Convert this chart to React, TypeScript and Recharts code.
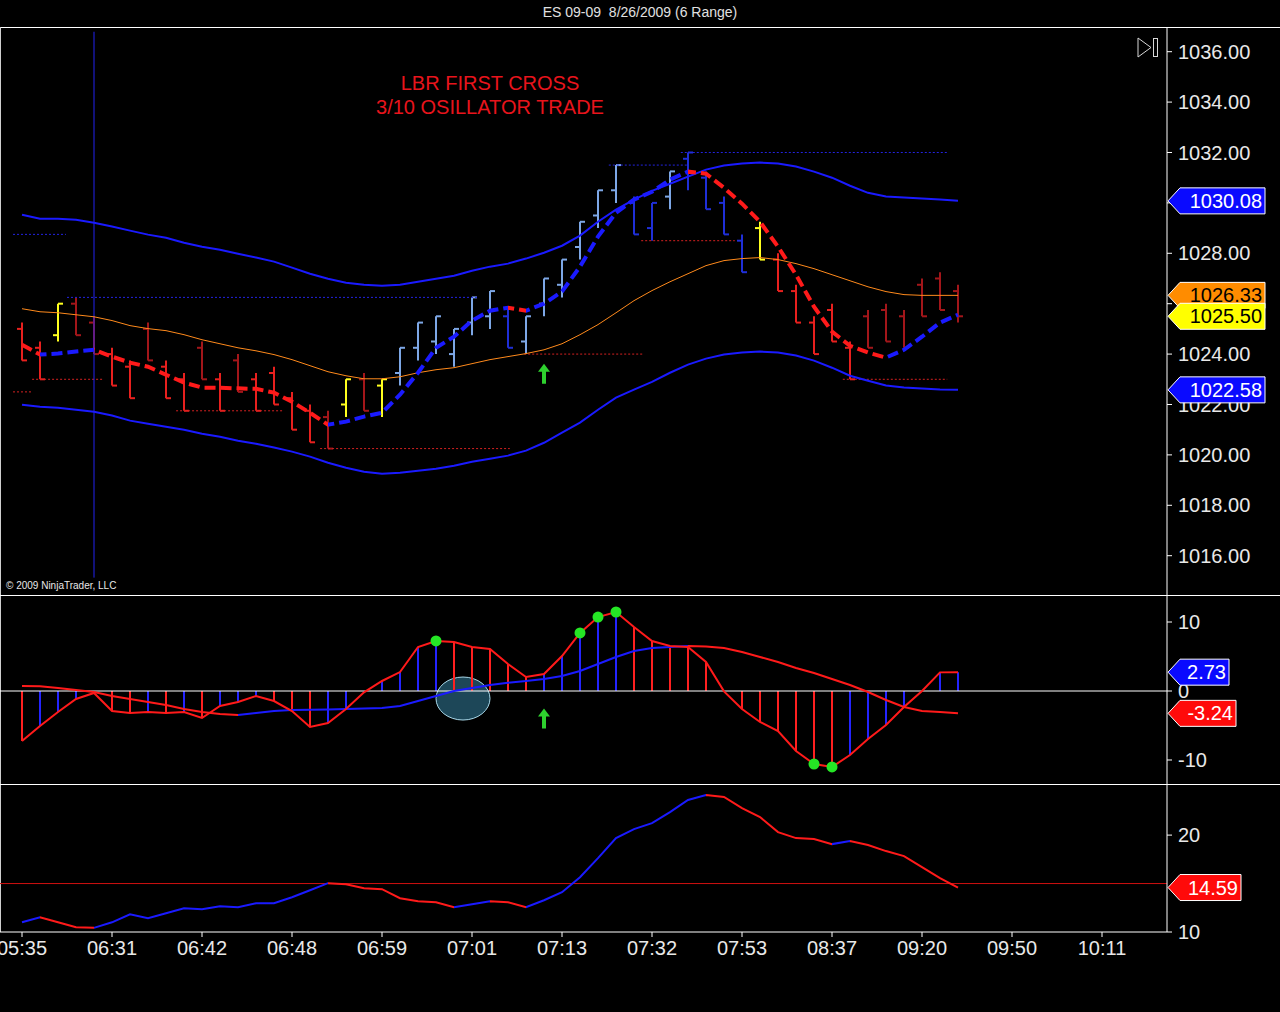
import React from 'react';
import {
  Bar,
  Cell,
  ComposedChart,
  Line,
  ReferenceDot,
  ReferenceLine,
  Scatter,
  XAxis,
  YAxis,
} from 'recharts';

const FONT = '"Liberation Sans", Arial, sans-serif';

// x axis: one slot per range bar, label every 5 bars
const TIME_TICKS = [0, 5, 10, 15, 20, 25, 30, 35, 40, 45, 50, 55, 60];
const TIME_LABELS = ['05:35', '06:31', '06:42', '06:48', '06:59', '07:01', '07:13', '07:32', '07:53', '08:37', '09:20', '09:50', '10:11'];

// 6-tick range bars
const barHigh = [
  1025.25, 1024.5, 1026.0, 1026.25, 1025.5, 1024.25, 1023.75, 1025.25, 1023.75, 1023.25,
  1024.5, 1023.25, 1024.0, 1023.25, 1023.5, 1022.5, 1022.0, 1021.75, 1023.0, 1023.25,
  1023.0, 1024.25, 1025.25, 1025.5, 1025.0, 1026.25, 1026.5, 1025.75, 1025.5, 1027.0,
  1027.75, 1029.25, 1030.5, 1031.5, 1030.25, 1030.0, 1031.25, 1032.0, 1031.25, 1030.25,
  1028.75, 1029.25, 1028.0, 1026.75, 1025.5, 1026.0, 1024.5, 1025.75, 1026.0, 1025.75,
  1027.0, 1027.25, 1026.75,
];
const barLow = [
  1023.75, 1023.0, 1024.5, 1024.75, 1024.0, 1022.75, 1022.25, 1023.75, 1022.25, 1021.75,
  1023.0, 1021.75, 1022.5, 1021.75, 1022.0, 1021.0, 1020.5, 1020.25, 1021.5, 1021.75,
  1021.5, 1022.75, 1023.75, 1024.0, 1023.5, 1024.75, 1025.0, 1024.25, 1024.0, 1025.5,
  1026.25, 1027.75, 1029.0, 1030.0, 1028.75, 1028.5, 1029.75, 1030.5, 1029.75, 1028.75,
  1027.25, 1027.75, 1026.5, 1025.25, 1024.0, 1024.5, 1023.0, 1024.25, 1024.5, 1024.25,
  1025.5, 1025.75, 1025.25,
];
const barOpen = [
  1025.0, 1024.25, 1024.75, 1026.0, 1025.25, 1024.0, 1023.5, 1025.0, 1023.5, 1023.0,
  1024.25, 1023.0, 1023.75, 1023.0, 1023.25, 1022.25, 1021.75, 1021.5, 1022.0, 1023.0,
  1022.75, 1023.25, 1024.25, 1024.5, 1024.0, 1025.25, 1025.5, 1025.5, 1024.5, 1026.0,
  1026.75, 1028.25, 1029.5, 1030.5, 1030.0, 1029.0, 1030.25, 1031.75, 1031.0, 1030.0,
  1028.5, 1029.0, 1027.75, 1026.5, 1025.25, 1025.75, 1024.25, 1025.5, 1025.75, 1025.5,
  1026.75, 1027.0, 1026.5,
];
const barClose = [
  1023.75, 1023.0, 1026.0, 1024.75, 1024.0, 1022.75, 1022.25, 1023.75, 1022.25, 1021.75,
  1023.0, 1021.75, 1022.5, 1021.75, 1022.0, 1021.0, 1020.5, 1020.25, 1023.0, 1021.75,
  1023.0, 1024.25, 1025.25, 1025.5, 1025.0, 1026.25, 1026.5, 1024.25, 1025.5, 1027.0,
  1027.75, 1029.25, 1030.5, 1031.5, 1028.75, 1030.0, 1031.25, 1032.0, 1029.75, 1028.75,
  1027.25, 1027.75, 1026.5, 1025.25, 1024.0, 1024.5, 1023.0, 1024.25, 1024.5, 1024.25,
  1025.5, 1025.75, 1025.5,
];
// dn = strong down, dnw = weak down, up = light up, upw = weak up, neu = neutral (yellow)
const barState = [
  'dn', 'dn', 'neu', 'dnw', 'dnw', 'dn', 'dn', 'dnw', 'dn', 'dn',
  'dnw', 'dn', 'dnw', 'dn', 'dn', 'dn', 'dn', 'dnw', 'neu', 'dnw',
  'neu', 'up', 'up', 'up', 'up', 'up', 'up', 'upw', 'up', 'up',
  'up', 'up', 'up', 'up', 'upw', 'upw', 'up', 'upw', 'upw', 'upw',
  'upw', 'neu', 'dn', 'dn', 'dn', 'dn', 'dn', 'dnw', 'dnw', 'dnw',
  'dnw', 'dnw', 'dnw',
];

// envelope bands and middle line
const bandUpper = [
  1029.53, 1029.37, 1029.37, 1029.33, 1029.21, 1029.06, 1028.9, 1028.74, 1028.62, 1028.42,
  1028.26, 1028.14, 1027.98, 1027.83, 1027.67, 1027.43, 1027.19, 1026.99, 1026.83, 1026.75,
  1026.71, 1026.75, 1026.87, 1026.99, 1027.11, 1027.31, 1027.47, 1027.59, 1027.79, 1028.02,
  1028.3, 1028.7, 1029.25, 1029.73, 1030.13, 1030.48, 1030.76, 1031.04, 1031.32, 1031.48,
  1031.56, 1031.6, 1031.56, 1031.44, 1031.24, 1031.0, 1030.68, 1030.4, 1030.25, 1030.21,
  1030.17, 1030.13, 1030.08,
];
const bandLower = [
  1021.99, 1021.91, 1021.87, 1021.79, 1021.71, 1021.56, 1021.36, 1021.24, 1021.12, 1021.0,
  1020.84, 1020.72, 1020.56, 1020.44, 1020.29, 1020.13, 1019.93, 1019.69, 1019.49, 1019.33,
  1019.25, 1019.29, 1019.37, 1019.45, 1019.57, 1019.73, 1019.85, 1019.97, 1020.17, 1020.48,
  1020.88, 1021.28, 1021.79, 1022.27, 1022.59, 1022.9, 1023.26, 1023.58, 1023.82, 1023.98,
  1024.06, 1024.1, 1024.06, 1023.94, 1023.74, 1023.46, 1023.14, 1022.94, 1022.75, 1022.67,
  1022.63, 1022.59, 1022.58,
];
const bandMid = [
  1025.8, 1025.68, 1025.64, 1025.56, 1025.48, 1025.33, 1025.13, 1025.01, 1024.93, 1024.77,
  1024.57, 1024.41, 1024.25, 1024.13, 1023.98, 1023.78, 1023.54, 1023.3, 1023.14, 1023.02,
  1023.02, 1023.1, 1023.26, 1023.38, 1023.46, 1023.62, 1023.78, 1023.9, 1024.02, 1024.17,
  1024.41, 1024.77, 1025.17, 1025.64, 1026.12, 1026.52, 1026.87, 1027.19, 1027.51, 1027.71,
  1027.79, 1027.83, 1027.75, 1027.59, 1027.39, 1027.15, 1026.91, 1026.67, 1026.48, 1026.36,
  1026.33, 1026.33, 1026.33,
];
// slope-coloured moving average
const maLine = [
  1024.37, 1023.98, 1024.02, 1024.1, 1024.17, 1023.9, 1023.66, 1023.5, 1023.18, 1022.87,
  1022.67, 1022.66, 1022.64, 1022.62, 1022.47, 1022.11, 1021.67, 1021.2, 1021.32, 1021.52,
  1021.67, 1022.39, 1023.26, 1024.25, 1024.69, 1025.33, 1025.72, 1025.84, 1025.72, 1026.0,
  1026.48, 1027.47, 1028.66, 1029.61, 1030.13, 1030.44, 1030.92, 1031.24, 1031.16, 1030.6,
  1029.97, 1029.25, 1028.26, 1027.15, 1025.88, 1024.89, 1024.33, 1024.06, 1023.86, 1024.17,
  1024.69, 1025.25, 1025.56,
];

// swing levels: price, from bar, to bar
const redLevelPrice = [1023.0, 1022.5, 1021.75, 1020.25, 1024.0, 1028.5, 1023.0];
const redLevelFrom = [0.56, -0.5, 8.56, 16.56, 27.9, 34.4, 45.6];
const redLevelTo = [4.5, 0.5, 14.5, 27.1, 34.5, 39.6, 51.4];
const blueLevelPrice = [1028.75, 1026.25, 1031.5, 1032.0];
const blueLevelFrom = [-0.5, 2.5, 32.6, 36.6];
const blueLevelTo = [2.44, 25.3, 37.0, 51.4];

const PRICE_TICKS = [1016, 1018, 1020, 1022, 1024, 1026, 1028, 1030, 1032, 1034, 1036];

// 3/10 oscillator and its signal line
const oscFast = [
  -7.25, -5.07, -3.04, -1.16, -0.29, -2.9, -3.19, -3.04, -3.19, -3.04,
  -3.91, -2.17, -1.59, -0.72, -1.45, -2.9, -5.22, -4.64, -2.61, -0.2,
  1.45, 2.75, 6.38, 7.25, 7.1, 6.38, 6.09, 3.91, 2.03, 2.46,
  5.07, 8.41, 10.72, 11.45, 9.28, 7.25, 6.52, 6.38, 4.2, -0.05,
  -2.61, -4.49, -5.8, -8.7, -10.58, -11.01, -9.28, -6.96, -4.93, -2.32,
  0.0, 2.7, 2.73,
];
const oscSignal = [
  0.72, 0.7, 0.43, 0.14, -0.14, -0.72, -1.16, -1.59, -2.03, -2.61,
  -3.04, -3.33, -3.48, -3.19, -2.9, -2.75, -2.7, -2.68, -2.61, -2.55,
  -2.46, -2.17, -1.45, -0.72, 0.0, 0.43, 0.87, 1.2, 1.45, 1.74,
  2.17, 2.9, 3.91, 4.93, 5.8, 6.23, 6.38, 6.52, 6.45, 6.23,
  5.65, 4.93, 4.2, 3.33, 2.61, 1.74, 0.87, -0.14, -1.3, -2.32,
  -2.9, -3.04, -3.24,
];
const oscDots = [23, 31, 32, 33, 44, 45];
const OSC_TICKS = [-10, 0, 10];

// lower trend-strength line and its direction state (1 = up, 0 = down)
const dmLine = [
  11.0, 11.52, 11.0, 10.49, 10.43, 11.0, 11.83, 11.42, 11.93, 12.45,
  12.35, 12.66, 12.55, 12.97, 12.97, 13.59, 14.31, 15.04, 14.93, 14.51,
  14.42, 13.49, 13.17, 13.07, 12.55, 12.86, 13.17, 13.07, 12.55, 13.28,
  14.11, 15.66, 17.62, 19.69, 20.62, 21.24, 22.38, 23.62, 24.14, 23.93,
  22.79, 21.86, 20.31, 19.69, 19.59, 19.07, 19.38, 18.97, 18.35, 17.83,
  16.69, 15.55, 14.59,
];
const dmState = [
  1, 1, 0, 0, 0, 1, 1, 1, 1, 1,
  1, 1, 1, 1, 1, 1, 1, 1, 0, 0,
  0, 0, 0, 0, 0, 1, 1, 0, 0, 1,
  1, 1, 1, 1, 1, 1, 1, 1, 1, 0,
  0, 0, 0, 0, 0, 0, 1, 0, 0, 0,
  0, 0, 0,
];
const DM_LEVEL = 15;
const DM_TICKS = [10, 20];

const SIGNAL_BAR = 29;

// ---- styling ----
const RED = '#ff1a1a';
const BLUE = '#1a1aff';
const BAR_COLORS: Record<string, string> = {
  dn: '#e8201e',
  dnw: '#a3161a',
  up: '#7da7e6',
  upw: '#1f2fd8',
  neu: '#ffff1e',
};
const TEXT = '#e8e8e8';

const X_MIN = -22 / 18;
const X_MAX = (1167 - 22) / 18;
const AXIS_W = 113;
const PRICE_DOMAIN = [1014.44, 1036.94];
const OSC_DOMAIN = [-13.48, 13.77];
const DM_DOMAIN = [10, 25.17];

const priceRows = barHigh.map((h, i) => ({
  i,
  range: [barLow[i], h],
  high: h,
  low: barLow[i],
  open: barOpen[i],
  close: barClose[i],
  state: barState[i],
  upper: bandUpper[i],
  lower: bandLower[i],
  mid: bandMid[i],
  ma: maLine[i],
}));
const oscRows = oscFast.map((v, i) => ({ i, osc: v, signal: oscSignal[i] }));
const dotRows = oscDots.map((i) => ({ i, y: oscFast[i] }));
const dmRows = dmLine.map((v, i) => ({ i, dm: v }));

const slopeColors = (vals: number[]) => vals.slice(1).map((v, k) => (v >= vals[k] ? BLUE : RED));
const maColors = slopeColors(maLine);
const signalColors = slopeColors(oscSignal);
const dmColors = dmState.slice(1).map((s) => (s ? BLUE : RED));
const histColors = oscFast.map((v, i) => (i > 0 && v >= oscFast[i - 1] ? '#2424ff' : '#ff2020'));

function SplitGradient({ id, colors }: { id: string; colors: string[] }) {
  const n = colors.length;
  return (
    <linearGradient id={id} x1="0" y1="0" x2="1" y2="0">
      {colors.flatMap((c, k) => [
        <stop key={`a${k}`} offset={k / n} stopColor={c} />,
        <stop key={`b${k}`} offset={(k + 1) / n} stopColor={c} />,
      ])}
    </linearGradient>
  );
}

function OhlcShape(props: any) {
  const { x, y, width, height, payload } = props;
  if (x == null || y == null) return null;
  const top = Math.min(y, y + height);
  const h = Math.abs(height);
  const cx = Math.round(x + width / 2);
  const span = payload.high - payload.low;
  const py = (v: number) => top + ((payload.high - v) / span) * h;
  return (
    <g stroke={BAR_COLORS[payload.state]} strokeWidth={2}>
      <line x1={cx} x2={cx} y1={top} y2={top + h} />
      <line x1={cx - 5} x2={cx} y1={py(payload.open)} y2={py(payload.open)} />
      <line x1={cx} x2={cx + 5} y1={py(payload.close)} y2={py(payload.close)} />
    </g>
  );
}

function flag(text: string, fill: string, ink: string, boxW: number) {
  return (p: any) => {
    const x0 = p.cx + 1;
    const cy = p.cy;
    const bx = x0 + 12;
    const pts = `${x0},${cy} ${bx},${cy - 13} ${bx + boxW},${cy - 13} ${bx + boxW},${cy + 13} ${bx},${cy + 13}`;
    return (
      <g>
        <polygon points={pts} fill={fill} stroke="#ffffff" strokeWidth={1} />
        <text x={bx + boxW - 3} y={cy + 7} textAnchor="end" fill={ink} fontSize={20} fontFamily={FONT}>
          {text}
        </text>
      </g>
    );
  };
}

function arrowShape(p: any) {
  const { cx, cy } = p;
  return (
    <polygon
      points={`${cx},${cy - 10} ${cx + 6},${cy - 2} ${cx + 2},${cy - 2} ${cx + 2},${cy + 10} ${cx - 2},${cy + 10} ${cx - 2},${cy - 2} ${cx - 6},${cy - 2}`}
      fill="#2ed12e"
    />
  );
}

function ellipseShape(p: any) {
  return (
    <ellipse cx={p.cx} cy={p.cy} rx={27} ry={21.5} fill="#1d4758" stroke="#a9d9ea" strokeWidth={1} />
  );
}

function dotShape(p: any) {
  return <circle cx={p.cx} cy={p.cy} r={5.5} fill="#25e625" />;
}

const yTick = { fill: TEXT, fontSize: 20, fontFamily: FONT };

function rightAxis(domain: number[], ticks: number[], fmt?: (v: number) => string) {
  return (
    <YAxis
      orientation="right"
      width={AXIS_W}
      type="number"
      domain={domain}
      ticks={ticks}
      allowDataOverflow
      interval={0}
      tick={yTick}
      tickFormatter={fmt}
      tickSize={5}
      tickMargin={6}
      axisLine={{ stroke: '#ffffff' }}
      tickLine={{ stroke: '#ffffff' }}
    />
  );
}

// transparent layer with the same scales, used above or below a panel
function Layer({ height, domain, children }: { height: number; domain: number[]; children: React.ReactNode }) {
  return (
    <ComposedChart width={1280} height={height} data={[]} margin={{ top: 0, right: 0, bottom: 0, left: 0 }}>
      <XAxis dataKey="i" type="number" domain={[X_MIN, X_MAX]} hide allowDataOverflow />
      <YAxis
        orientation="right"
        width={AXIS_W}
        type="number"
        domain={domain}
        allowDataOverflow
        tick={false}
        tickLine={false}
        axisLine={false}
      />
      {children}
    </ComposedChart>
  );
}

function PriceChart() {
  return (
    <ComposedChart width={1280} height={567} data={priceRows} margin={{ top: 0, right: 0, bottom: 0, left: 0 }}>
      <defs>
        <SplitGradient id="maGrad" colors={maColors} />
      </defs>
      <XAxis dataKey="i" type="number" domain={[X_MIN, X_MAX]} hide allowDataOverflow />
      {rightAxis(PRICE_DOMAIN, PRICE_TICKS, (v) => v.toFixed(2))}
      {redLevelPrice.map((p, k) => (
        <ReferenceLine
          key={`r${k}`}
          segment={[{ x: redLevelFrom[k], y: p }, { x: redLevelTo[k], y: p }]}
          stroke="#d42020"
          strokeDasharray="2 2"
          ifOverflow="visible"
        />
      ))}
      {blueLevelPrice.map((p, k) => (
        <ReferenceLine
          key={`b${k}`}
          segment={[{ x: blueLevelFrom[k], y: p }, { x: blueLevelTo[k], y: p }]}
          stroke="#2323e0"
          strokeDasharray="2 2"
          ifOverflow="visible"
        />
      ))}
      <ReferenceLine segment={[{ x: 4, y: 1036.79 }, { x: 4, y: 1015.13 }]} stroke="#2323f0" strokeWidth={1} />
      <Line dataKey="upper" type="linear" stroke={BLUE} strokeWidth={2} dot={false} isAnimationActive={false} />
      <Line dataKey="lower" type="linear" stroke={BLUE} strokeWidth={2} dot={false} isAnimationActive={false} />
      <Line dataKey="mid" type="linear" stroke="#ff8a1c" strokeWidth={1} dot={false} isAnimationActive={false} />
      <Bar dataKey="range" barSize={10} shape={OhlcShape} isAnimationActive={false} />
      <Line
        dataKey="ma"
        type="linear"
        stroke="url(#maGrad)"
        strokeWidth={4}
        strokeDasharray="11 5"
        dot={false}
        isAnimationActive={false}
      />
      <ReferenceDot x={SIGNAL_BAR} y={1023.22} r={0} shape={arrowShape} ifOverflow="visible" />
    </ComposedChart>
  );
}

function PriceFlags() {
  return (
    <Layer height={567} domain={PRICE_DOMAIN}>
      <ReferenceDot x={X_MAX} y={bandMid[52]} r={0} shape={flag('1026.33', '#ff8c00', '#000000', 85)} ifOverflow="visible" />
      <ReferenceDot x={X_MAX} y={barClose[52]} r={0} shape={flag('1025.50', '#ffff00', '#000000', 85)} ifOverflow="visible" />
      <ReferenceDot x={X_MAX} y={bandUpper[52]} r={0} shape={flag('1030.08', '#0a0aff', '#ffffff', 85)} ifOverflow="visible" />
      <ReferenceDot x={X_MAX} y={bandLower[52]} r={0} shape={flag('1022.58', '#0a0aff', '#ffffff', 85)} ifOverflow="visible" />
    </Layer>
  );
}

function OscChart() {
  return (
    <ComposedChart width={1280} height={188} data={oscRows} margin={{ top: 0, right: 0, bottom: 0, left: 0 }}>
      <defs>
        <SplitGradient id="sigGrad" colors={signalColors} />
      </defs>
      <XAxis dataKey="i" type="number" domain={[X_MIN, X_MAX]} hide allowDataOverflow />
      {rightAxis(OSC_DOMAIN, OSC_TICKS)}
      <ReferenceLine y={0} stroke="#ffffff" strokeWidth={1} />
      <Bar dataKey="osc" barSize={2} isAnimationActive={false}>
        {oscRows.map((r, k) => (
          <Cell key={k} fill={histColors[k]} />
        ))}
      </Bar>
      <Line dataKey="signal" type="linear" stroke="url(#sigGrad)" strokeWidth={2} dot={false} isAnimationActive={false} />
      <Line dataKey="osc" type="linear" stroke={RED} strokeWidth={2} dot={false} isAnimationActive={false} />
      <Scatter data={dotRows} dataKey="y" shape={dotShape} isAnimationActive={false} />
      <ReferenceDot x={SIGNAL_BAR} y={-3.99} r={0} shape={arrowShape} ifOverflow="visible" />
    </ComposedChart>
  );
}

function OscUnder() {
  return (
    <Layer height={188} domain={OSC_DOMAIN}>
      <ReferenceDot x={24.5} y={-1.09} r={0} shape={ellipseShape} ifOverflow="visible" />
    </Layer>
  );
}

function OscFlags() {
  return (
    <Layer height={188} domain={OSC_DOMAIN}>
      <ReferenceDot x={X_MAX} y={oscFast[52]} r={0} shape={flag('2.73', '#0a0aff', '#ffffff', 49)} ifOverflow="visible" />
      <ReferenceDot x={X_MAX} y={oscSignal[52]} r={0} shape={flag('-3.24', '#ff0a0a', '#ffffff', 56)} ifOverflow="visible" />
    </Layer>
  );
}

function DmChart() {
  return (
    <ComposedChart width={1280} height={180} data={dmRows} margin={{ top: 0, right: 0, bottom: 0, left: 0 }}>
      <defs>
        <SplitGradient id="dmGrad" colors={dmColors} />
      </defs>
      <XAxis
        dataKey="i"
        type="number"
        domain={[X_MIN, X_MAX]}
        allowDataOverflow
        ticks={TIME_TICKS}
        interval={0}
        height={33}
        tickFormatter={(v) => TIME_LABELS[TIME_TICKS.indexOf(v)] ?? ''}
        tick={{ fill: TEXT, fontSize: 20, fontFamily: FONT }}
        tickSize={5}
        tickMargin={4}
        axisLine={{ stroke: '#ffffff' }}
        tickLine={{ stroke: '#ffffff' }}
      />
      {rightAxis(DM_DOMAIN, DM_TICKS)}
      <ReferenceLine y={DM_LEVEL} stroke="#d01010" strokeWidth={1} />
      <Line dataKey="dm" type="linear" stroke="url(#dmGrad)" strokeWidth={2} dot={false} isAnimationActive={false} />
    </ComposedChart>
  );
}

function DmFlags() {
  return (
    <Layer height={147} domain={DM_DOMAIN}>
      <ReferenceDot x={X_MAX} y={dmLine[52]} r={0} shape={flag('14.59', '#ff0a0a', '#ffffff', 61)} ifOverflow="visible" />
    </Layer>
  );
}

const hLine = (top: number, left: number, width: number): React.CSSProperties => ({
  position: 'absolute',
  top,
  left,
  width,
  height: 1,
  background: '#ffffff',
});

const at = (top: number): React.CSSProperties => ({ position: 'absolute', top, left: 0 });

export default function App() {
  return (
    <div
      style={{
        position: 'absolute',
        left: 0,
        top: 0,
        width: 1280,
        height: 1012,
        background: '#000000',
        overflow: 'hidden',
        fontFamily: FONT,
      }}
    >
      <div
        style={{
          position: 'absolute',
          top: 4,
          left: 0,
          width: 1280,
          textAlign: 'center',
          color: '#e0e0e0',
          fontSize: 14,
          whiteSpace: 'pre',
        }}
      >
        {'ES 09-09  8/26/2009 (6 Range)'}
      </div>
      <div style={hLine(27, 0, 1280)} />
      <div style={{ position: 'absolute', top: 27, left: 0, width: 1, height: 905, background: '#cfcfcf' }} />

      <div style={at(28)}>
        <PriceChart />
      </div>
      <div style={at(28)}>
        <PriceFlags />
      </div>
      <div style={hLine(595, 0, 1280)} />
      <div style={at(596)}>
        <OscUnder />
      </div>
      <div style={at(596)}>
        <OscChart />
      </div>
      <div style={at(596)}>
        <OscFlags />
      </div>
      <div style={hLine(784, 0, 1280)} />
      <div style={at(785)}>
        <DmChart />
      </div>
      <div style={at(785)}>
        <DmFlags />
      </div>

      <div
        style={{
          position: 'absolute',
          top: 71,
          left: 290,
          width: 400,
          textAlign: 'center',
          color: '#e8141c',
          fontSize: 20,
          lineHeight: '24px',
        }}
      >
        LBR FIRST CROSS
        <br />
        3/10 OSILLATOR TRADE
      </div>
      <div style={{ position: 'absolute', top: 580, left: 6, color: '#e8e8e8', fontSize: 10 }}>
        © 2009 NinjaTrader, LLC
      </div>
      <svg style={{ position: 'absolute', left: 1137, top: 37 }} width={24} height={22}>
        <polygon points="1,1 14,10.5 1,20" fill="none" stroke="#d8d8d8" strokeWidth={1} />
        <rect x={16.5} y={1.5} width={4} height={18} fill="none" stroke="#d8d8d8" strokeWidth={1} />
      </svg>
    </div>
  );
}
